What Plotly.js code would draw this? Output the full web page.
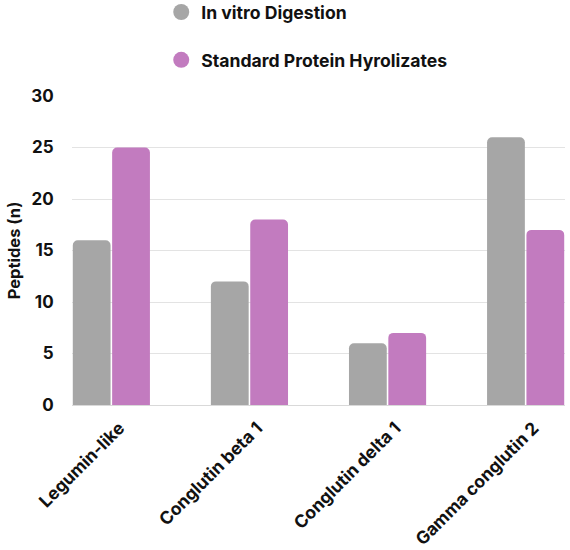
<!DOCTYPE html>
<html>
<head>
<meta charset="utf-8">
<script src="https://cdn.plot.ly/plotly-3.0.1.min.js"></script>
<style>html,body{margin:0;padding:0;background:#fff;}#chart{width:570px;height:550px;}</style>
</head>
<body>
<div id="chart"></div>
<script>
const categories = ["Legumin-like", "Conglutin beta 1", "Conglutin delta 1", "Gamma conglutin 2"];
const inVitro = [16, 12, 6, 26];
const standard = [25, 18, 7, 17];
const seriesNames = ["In vitro Digestion", "Standard Protein Hyrolizates"];
const colors = ["#a6a6a6", "#c27bbf"];
const yTicks = [0, 5, 10, 15, 20, 25, 30];
const yTitle = "Peptides (n)";

const FONT = "Inter, Lato, sans-serif";

const traces = [
  {type: "bar", x: categories, y: inVitro, name: seriesNames[0], marker: {color: colors[0], cornerradius: 5}, showlegend: false, hoverinfo: "none"},
  {type: "bar", x: categories, y: standard, name: seriesNames[1], marker: {color: colors[1], cornerradius: 5}, showlegend: false, hoverinfo: "none"},
  {type: "scatter", mode: "markers", x: [null], y: [null], name: seriesNames[0], legendgroup: "a", marker: {color: colors[0], size: 20, symbol: "circle"}},
  {type: "scatter", mode: "markers", x: [null], y: [null], name: seriesNames[1], legendgroup: "b", marker: {color: colors[1], size: 20, symbol: "circle"}}
];

const layout = {
  width: 570, height: 550,
  margin: {l: 72, r: 5, t: 96, b: 145, autoexpand: false},
  paper_bgcolor: "#fff", plot_bgcolor: "#fff",
  font: {family: FONT, color: "#111", size: 16, weight: 700},
  barmode: "group",
  bargap: 0.43,
  bargroupgap: 0.04,
  showlegend: true,
  legend: {
    xref: "paper", yref: "paper",
    x: 0.181, xanchor: "left", y: 1.33, yanchor: "top",
    orientation: "v", tracegroupgap: 22,
    font: {family: FONT, size: 17.6, weight: 700, color: "#111"},
    itemsizing: "trace", bgcolor: "rgba(0,0,0,0)"
  },
  xaxis: {
    type: "category",
    categoryarray: categories,
    range: [-0.285, 3.285],
    tickangle: -45,
    tickfont: {family: FONT, size: 17.5, weight: 700, color: "#111"},
    showgrid: false, zeroline: false,
    showline: true, linecolor: "#d9d9d9", linewidth: 1,
    ticks: "outside", ticklen: 5, tickcolor: "rgba(0,0,0,0)", fixedrange: true,
    ticklabelshift: 8,
    automargin: false
  },
  yaxis: {
    range: [0, 30],
    tickvals: yTicks,
    ticktext: yTicks.map(String),
    tickfont: {family: FONT, size: 17, weight: 700, color: "#111"},
    showgrid: true, gridcolor: "#e3e3e3", gridwidth: 1,
    zeroline: false, showline: false,
    ticks: "outside", ticklen: 14, tickcolor: "rgba(0,0,0,0)",
    fixedrange: true,
    automargin: false
  },
  annotations: [{
    text: yTitle, xref: "paper", yref: "paper", x: -0.118, y: 0.5,
    xanchor: "center", yanchor: "middle", textangle: -90, showarrow: false,
    font: {family: FONT, size: 16.5, weight: 700, color: "#111"}
  }]
};

Plotly.newPlot("chart", traces, layout, {displayModeBar: false, staticPlot: true});
</script>
</body>
</html>
